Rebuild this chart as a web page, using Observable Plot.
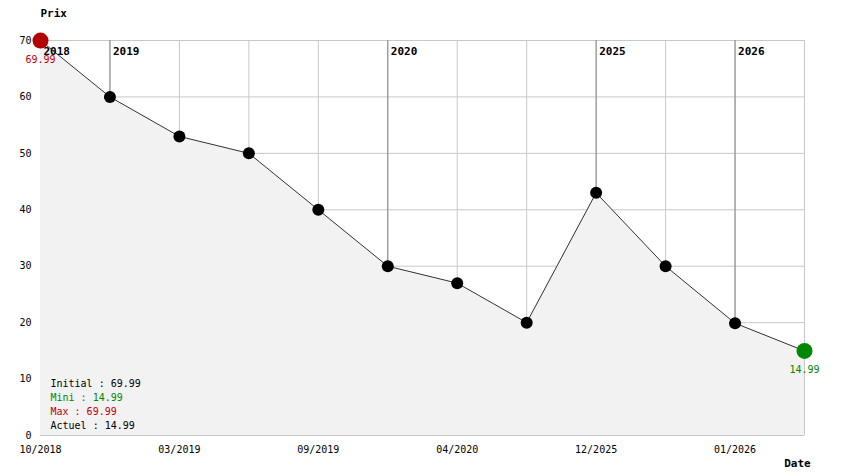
<!DOCTYPE html>
<html>
<head>
<meta charset="utf-8">
<script src="https://cdn.jsdelivr.net/npm/d3@7"></script>
<script src="https://cdn.jsdelivr.net/npm/@observablehq/plot@0.6"></script>
<style>
  html, body { margin: 0; padding: 0; background: #fff; }
  svg text { -webkit-font-smoothing: none; }
</style>
</head>
<body>
<div id="chart"></div>
<script>
// Data
const dates = ["2018-10-15","2019-01-10","2019-03-05","2019-06-20","2019-09-10","2020-01-15",
               "2020-04-10","2020-08-01","2025-12-01","2025-12-20","2026-01-05","2026-01-25"];
const prices = [69.99, 60, 53, 50, 40, 30, 27, 20, 43, 30, 19.9, 14.99];
const yTicks = [0, 10, 20, 30, 40, 50, 60, 70];
const legendLines = [
  {label: "Initial : 69.99", color: "#000000"},
  {label: "Mini : 14.99", color: "#008800"},
  {label: "Max : 69.99", color: "#c00000"},
  {label: "Actuel : 14.99", color: "#000000"}
];

const data = dates.map((d, i) => ({date: d, price: prices[i], i}));
const fmtLabel = d => d.slice(5, 7) + "/" + d.slice(0, 4);
const yearMarks = data.filter((d, i) => i === 0 || d.date.slice(0, 4) !== dates[i - 1].slice(0, 4));
const maxV = d3.max(prices), minV = d3.min(prices);
const maxPt = data.filter(d => d.price === maxV);
const minPt = data.filter(d => d.price === minV);
const midPts = data.filter(d => d.price !== maxV && d.price !== minV);

const chart = Plot.plot({
  width: 844,
  height: 474,
  marginLeft: 40,
  marginRight: 40,
  marginTop: 40,
  marginBottom: 39,
  style: {fontFamily: "'DejaVu Sans Mono', monospace", fontSize: "10px", background: "#fff", color: "#000"},
  x: {type: "point", domain: dates, padding: 0, round: false},
  y: {domain: [0, 70]},
  marks: [
    Plot.ruleY(yTicks, {stroke: "#c8c8c8", strokeOpacity: 1}),
    Plot.ruleX(dates, {stroke: "#c8c8c8", strokeOpacity: 1}),
    Plot.areaY(data, {x: "date", y: "price", fill: "#f2f2f2"}),
    Plot.ruleX(yearMarks, {x: "date", y1: "price", y2: 70, stroke: "#888888"}),
    Plot.lineY(data, {x: "date", y: "price", stroke: "#333333", strokeWidth: 1}),
    Plot.dot(midPts, {x: "date", y: "price", r: 6, fill: "#000000", stroke: "none"}),
    Plot.dot(maxPt, {x: "date", y: "price", r: 8, fill: "#b40000", stroke: "none"}),
    Plot.dot(minPt, {x: "date", y: "price", r: 8, fill: "#008800", stroke: "none"}),
    Plot.text(maxPt, {x: "date", y: "price", text: d => d.price.toFixed(2), dy: 19, fill: "#c00000", fontSize: 10}),
    Plot.text(minPt, {x: "date", y: "price", text: d => d.price.toFixed(2), dy: 19, fill: "#008800", fontSize: 10}),
    Plot.text(yearMarks, {x: "date", y: 70, text: d => d.date.slice(0, 4), dx: 3, dy: 11, textAnchor: "start", fontWeight: "bold", fontSize: 11}),
    Plot.axisY({ticks: yTicks, tickSize: 0, tickPadding: 9, label: null, fontSize: 10}),
    Plot.axisX({tickSize: 0, tickPadding: 10, label: null, fontSize: 10,
      tickFormat: (d) => { const i = dates.indexOf(d); return i % 2 === 0 ? fmtLabel(d) : ""; }}),
    Plot.text(["Prix"], {frameAnchor: "top-left", dy: -31, textAnchor: "start", fontWeight: "bold", fontSize: 11}),
    Plot.text(["Date"], {frameAnchor: "bottom-right", dx: -7, dy: 31, textAnchor: "middle", fontWeight: "bold", fontSize: 11}),
    ...legendLines.map((l, k) => Plot.text([l.label], {
      frameAnchor: "bottom-left", dx: 10, dy: -7 - 14 * (legendLines.length - 1 - k),
      textAnchor: "start", fill: l.color, fontSize: 10
    }))
  ]
});
document.getElementById("chart").appendChild(chart);
</script>
</body>
</html>
